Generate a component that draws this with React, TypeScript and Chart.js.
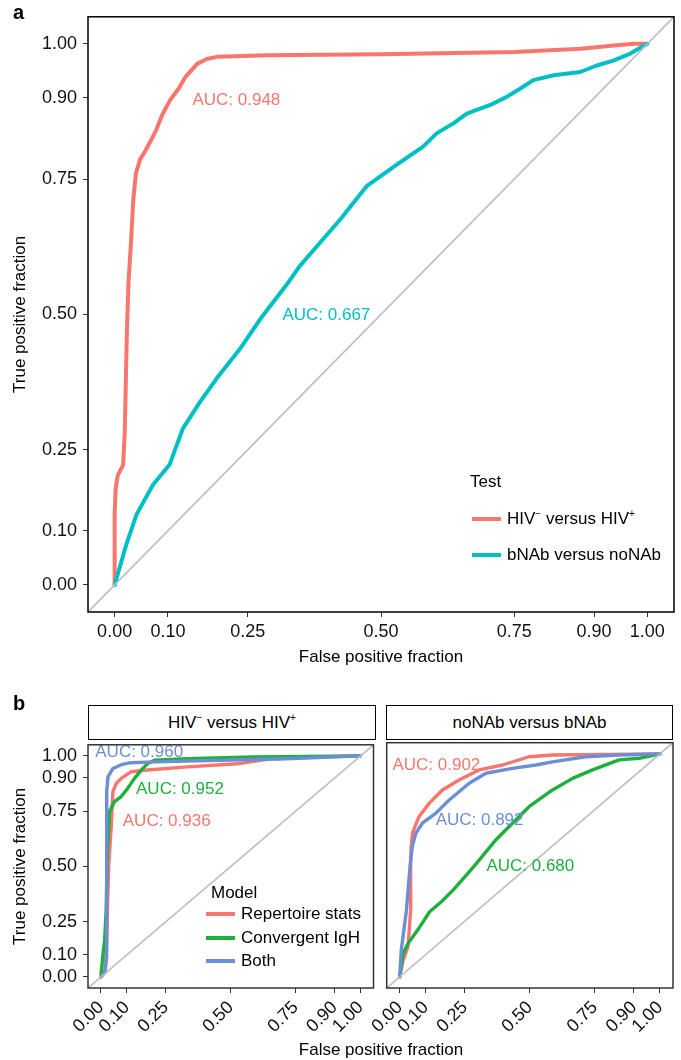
import React, { useEffect, useRef } from "react";
import { Chart, registerables } from "chart.js";

Chart.register(...registerables);

const FONT = '"Liberation Sans", Arial, Helvetica, sans-serif';

// ---------- shared axis data ----------
const AXIS_TICKS = [0, 0.1, 0.25, 0.5, 0.75, 0.9, 1];
const AXIS_LIMITS = [-0.05, 1.05];
const CHANCE_LINE = [-0.05, 1.05]; // y = x reference line

// ---------- panel a ----------
const A_HIV_FPR = [0, 0, 0.002, 0.006, 0.016, 0.019, 0.021, 0.023, 0.026, 0.031, 0.035, 0.04, 0.048, 0.057, 0.07, 0.079, 0.089, 0.104, 0.12, 0.133, 0.155, 0.173, 0.192, 0.286, 0.5, 0.75, 0.875, 0.937, 0.975, 1];
const A_HIV_TPR = [0, 0.13, 0.179, 0.203, 0.222, 0.283, 0.375, 0.467, 0.559, 0.638, 0.712, 0.761, 0.787, 0.801, 0.825, 0.843, 0.868, 0.896, 0.917, 0.939, 0.963, 0.972, 0.976, 0.979, 0.981, 0.985, 0.991, 0.997, 1, 1];
const A_BNAB_FPR = [0, 0.022, 0.041, 0.072, 0.103, 0.128, 0.16, 0.191, 0.235, 0.273, 0.326, 0.348, 0.385, 0.423, 0.473, 0.533, 0.579, 0.605, 0.636, 0.661, 0.705, 0.736, 0.761, 0.786, 0.824, 0.874, 0.905, 0.936, 0.968, 1];
const A_BNAB_TPR = [0, 0.075, 0.13, 0.185, 0.222, 0.289, 0.338, 0.381, 0.436, 0.491, 0.559, 0.59, 0.632, 0.675, 0.737, 0.779, 0.81, 0.835, 0.853, 0.871, 0.887, 0.902, 0.917, 0.933, 0.942, 0.948, 0.96, 0.969, 0.982, 1];
const A_AUC_TEXT = ["AUC: 0.948", "AUC: 0.667"];
const A_AUC_X = [0.146, 0.315];
const A_AUC_Y = [0.895, 0.498];
const A_LEGEND_TITLE = "Test";

// ---------- panel b ----------
const B_MODELS = ["Repertoire stats", "Convergent IgH", "Both"];
const B_LEGEND_TITLE = "Model";
// facet 1: HIV- versus HIV+
const B1_REP_FPR = [0, 0.015, 0.022, 0.026, 0.03, 0.04, 0.046, 0.059, 0.078, 0.116, 0.167, 0.333, 0.525, 0.653, 0.844, 1];
const B1_REP_TPR = [0, 0.03, 0.15, 0.35, 0.509, 0.689, 0.838, 0.875, 0.898, 0.928, 0.935, 0.95, 0.964, 0.987, 0.995, 1];
const B1_CONV_FPR = [0, 0.008, 0.014, 0.02, 0.024, 0.033, 0.052, 0.078, 0.103, 0.129, 0.161, 0.18, 0.206, 0.333, 0.589, 1];
const B1_CONV_TPR = [0.01, 0.105, 0.165, 0.3, 0.55, 0.748, 0.793, 0.816, 0.853, 0.898, 0.943, 0.965, 0.98, 0.987, 0.995, 1];
const B1_BOTH_FPR = [0, 0.015, 0.022, 0.022, 0.022, 0.022, 0.027, 0.046, 0.078, 0.116, 0.206, 0.461, 0.716, 1];
const B1_BOTH_TPR = [0, 0.02, 0.09, 0.314, 0.614, 0.838, 0.905, 0.943, 0.96, 0.969, 0.973, 0.98, 0.987, 1];
const B1_AUC_TEXT = ["AUC: 0.936", "AUC: 0.952", "AUC: 0.960"];
const B1_AUC_X = [0.084, 0.135, -0.022];
const B1_AUC_Y = [0.703, 0.848, 1.017];
// facet 2: noNAb versus bNAb
const B2_REP_FPR = [0, 0.013, 0.032, 0.042, 0.042, 0.044, 0.049, 0.074, 0.113, 0.164, 0.228, 0.305, 0.395, 0.497, 0.587, 1];
const B2_REP_TPR = [0, 0.075, 0.135, 0.3, 0.524, 0.58, 0.644, 0.718, 0.778, 0.838, 0.883, 0.928, 0.95, 0.987, 0.995, 1];
const B2_CONV_FPR = [0, 0.013, 0.032, 0.077, 0.115, 0.16, 0.205, 0.256, 0.295, 0.369, 0.433, 0.497, 0.587, 0.664, 0.741, 0.843, 0.92, 1];
const B2_CONV_TPR = [0, 0.105, 0.15, 0.224, 0.292, 0.337, 0.389, 0.456, 0.509, 0.614, 0.689, 0.763, 0.838, 0.89, 0.928, 0.973, 0.98, 1];
const B2_BOTH_FPR = [0, 0.006, 0.026, 0.04, 0.048, 0.062, 0.087, 0.138, 0.19, 0.267, 0.331, 0.433, 0.523, 0.587, 0.715, 0.843, 1];
const B2_BOTH_TPR = [0, 0.12, 0.3, 0.5, 0.583, 0.644, 0.689, 0.733, 0.793, 0.868, 0.913, 0.935, 0.95, 0.964, 0.987, 0.995, 1];
const B2_AUC_TEXT = ["AUC: 0.902", "AUC: 0.680", "AUC: 0.892"];
const B2_AUC_X = [-0.028, 0.333, 0.138];
const B2_AUC_Y = [0.95, 0.497, 0.703];

const X_TITLE = "False positive fraction";
const Y_TITLE = "True positive fraction";

// ---------- styles ----------
const RED = "#F8766D";
const CYAN = "#00BFC4";
const GREEN = "#1EAF3C";
const BLUE = "#6B8FD6";
const B_COLORS = [RED, GREEN, BLUE];

interface Series { fpr: number[]; tpr: number[]; color: string; width: number }
interface AucLabel { text: string; x: number; y: number; color: string }
interface Spec {
  left: number; top: number; width: number; height: number;
  padding: { top: number; right: number; bottom: number; left: number };
  yWidth: number; xHeight: number; showY: boolean; rotate: number;
  xTitle?: string; yTitle?: string;
  series: Series[]; labels: AucLabel[];
  boxColor: string; boxWidth: number;
}

function RocPanel({ spec }: { spec: Spec }) {
  const ref = useRef<HTMLCanvasElement>(null);
  useEffect(() => {
    const canvas = ref.current!;
    const n = spec.series.length;
    const datasets: any[] = spec.series.map((s, i) => ({
      data: s.fpr.map((x, k) => ({ x, y: s.tpr[k] })),
      borderColor: s.color,
      backgroundColor: s.color,
      borderWidth: s.width,
      showLine: true,
      pointRadius: 0,
      pointHoverRadius: 0,
      tension: 0,
      borderJoinStyle: "round",
      borderCapStyle: "round",
      order: n - i,
    }));
    datasets.push({
      data: CHANCE_LINE.map((v) => ({ x: v, y: v })),
      borderColor: "#BDBDBD",
      borderWidth: 1.6,
      showLine: true,
      pointRadius: 0,
      tension: 0,
      order: 0,
    });
    const decor = {
      id: "panelDecor",
      afterDatasetsDraw(chart: any) {
        const { ctx, chartArea: a, scales } = chart;
        ctx.save();
        ctx.font = `17px ${FONT}`;
        ctx.textBaseline = "middle";
        ctx.textAlign = "left";
        for (const l of spec.labels) {
          ctx.fillStyle = l.color;
          ctx.fillText(l.text, scales.x.getPixelForValue(l.x), scales.y.getPixelForValue(l.y));
        }
        ctx.strokeStyle = spec.boxColor;
        ctx.lineWidth = spec.boxWidth;
        ctx.strokeRect(a.left, a.top, a.right - a.left, a.bottom - a.top);
        ctx.restore();
      },
    };
    const tickFont = { family: FONT, size: 18 };
    const titleFont = { family: FONT, size: 17 };
    const grid = { drawOnChartArea: false, drawTicks: true, tickLength: 5, color: "#333", lineWidth: 1 };
    const chart = new Chart(canvas, {
      type: "scatter",
      data: { datasets },
      plugins: [decor],
      options: {
        animation: false,
        responsive: false,
        devicePixelRatio: 1,
        events: [],
        layout: { padding: spec.padding, autoPadding: false } as any,
        plugins: { legend: { display: false }, tooltip: { enabled: false } },
        scales: {
          x: {
            type: "linear",
            min: AXIS_LIMITS[0],
            max: AXIS_LIMITS[1],
            afterBuildTicks: (sc: any) => { sc.ticks = AXIS_TICKS.map((v) => ({ value: v })); },
            afterFit: (sc: any) => { sc.height = spec.xHeight; },
            ticks: {
              callback: (v: any) => Number(v).toFixed(2),
              font: tickFont, color: "#111", padding: 4, autoSkip: false,
              minRotation: spec.rotate, maxRotation: spec.rotate,
            },
            grid,
            border: { display: false },
            title: spec.xTitle
              ? { display: true, text: spec.xTitle, font: titleFont, color: "#000", padding: { top: 0, bottom: 12 } }
              : { display: false },
          },
          y: {
            type: "linear",
            display: spec.showY,
            min: AXIS_LIMITS[0],
            max: AXIS_LIMITS[1],
            afterBuildTicks: (sc: any) => { sc.ticks = AXIS_TICKS.map((v) => ({ value: v })); },
            afterFit: (sc: any) => { if (spec.showY) sc.width = spec.yWidth; },
            ticks: { callback: (v: any) => Number(v).toFixed(2), font: tickFont, color: "#111", padding: 6, autoSkip: false },
            grid,
            border: { display: false },
            title: spec.yTitle
              ? { display: true, text: spec.yTitle, font: titleFont, color: "#000", padding: { top: 10, bottom: 0 } }
              : { display: false },
          },
        },
      } as any,
    });
    return () => chart.destroy();
  }, []);
  return (
    <canvas
      ref={ref}
      width={spec.width}
      height={spec.height}
      style={{ position: "absolute", left: spec.left, top: spec.top, width: spec.width, height: spec.height }}
    />
  );
}

const txt = (extra: React.CSSProperties): React.CSSProperties => ({
  position: "absolute",
  fontFamily: FONT,
  fontSize: 17,
  lineHeight: "20px",
  whiteSpace: "nowrap",
  color: "#000",
  ...extra,
});

const supStyle: React.CSSProperties = { fontSize: 10, verticalAlign: 7, lineHeight: 0 };

function Versus({ a, b }: { a: string; b: string }) {
  // renders HIV⁻ versus HIV⁺ with superscripts
  return (
    <span>
      HIV<sup style={supStyle}>{a}</sup>{" versus HIV"}<sup style={supStyle}>{b}</sup>
    </span>
  );
}

function LegendRow({ x, cy, color, label, sw }: { x: number; cy: number; color: string; label: React.ReactNode; sw: number }) {
  return (
    <>
      <div style={{ position: "absolute", left: x, top: cy - 2, width: sw, height: 4, background: color }} />
      <div style={txt({ left: x + sw + 6, top: cy - 10 })}>{label}</div>
    </>
  );
}

export default function App() {
  const specA: Spec = {
    left: 0, top: 0, width: 681, height: 680,
    padding: { top: 12, right: 7, bottom: 0, left: 0 },
    yWidth: 88, xHeight: 68, showY: true, rotate: 0,
    xTitle: X_TITLE, yTitle: Y_TITLE,
    series: [
      { fpr: A_HIV_FPR, tpr: A_HIV_TPR, color: RED, width: 4 },
      { fpr: A_BNAB_FPR, tpr: A_BNAB_TPR, color: CYAN, width: 4 },
    ],
    labels: A_AUC_TEXT.map((t, i) => ({ text: t, x: A_AUC_X[i], y: A_AUC_Y[i], color: [RED, CYAN][i] })),
    boxColor: "#000", boxWidth: 1.5,
  };
  const specB1: Spec = {
    left: 0, top: 728, width: 380, height: 332,
    padding: { top: 14.7, right: 4.5, bottom: 0, left: 0 },
    yWidth: 88, xHeight: 72, showY: true, rotate: 45,
    yTitle: Y_TITLE,
    series: [
      { fpr: B1_REP_FPR, tpr: B1_REP_TPR, color: RED, width: 3.4 },
      { fpr: B1_CONV_FPR, tpr: B1_CONV_TPR, color: GREEN, width: 3.4 },
      { fpr: B1_BOTH_FPR, tpr: B1_BOTH_TPR, color: BLUE, width: 3.4 },
    ],
    labels: B1_AUC_TEXT.map((t, i) => ({ text: t, x: B1_AUC_X[i], y: B1_AUC_Y[i], color: B_COLORS[i] })),
    boxColor: "#333", boxWidth: 1.5,
  };
  const specB2: Spec = {
    left: 340, top: 728, width: 341, height: 332,
    padding: { top: 14.7, right: 8, bottom: 0, left: 46.7 },
    yWidth: 0, xHeight: 72, showY: false, rotate: 45,
    series: [
      { fpr: B2_REP_FPR, tpr: B2_REP_TPR, color: RED, width: 3.4 },
      { fpr: B2_CONV_FPR, tpr: B2_CONV_TPR, color: GREEN, width: 3.4 },
      { fpr: B2_BOTH_FPR, tpr: B2_BOTH_TPR, color: BLUE, width: 3.4 },
    ],
    labels: B2_AUC_TEXT.map((t, i) => ({ text: t, x: B2_AUC_X[i], y: B2_AUC_Y[i], color: B_COLORS[i] })),
    boxColor: "#333", boxWidth: 1.5,
  };

  const strip: React.CSSProperties = {
    position: "absolute", top: 705, height: 35, boxSizing: "border-box",
    border: "1.6px solid #000", background: "#fff", fontFamily: FONT, fontSize: 17,
    display: "flex", alignItems: "center", justifyContent: "center", whiteSpace: "nowrap",
  };

  return (
    <div style={{ position: "absolute", left: 0, top: 0, width: 681, height: 1060, background: "#fff", overflow: "hidden" }}>
      <RocPanel spec={specA} />
      <RocPanel spec={specB1} />
      <RocPanel spec={specB2} />

      <div style={txt({ left: 13, top: 2, fontWeight: "bold", fontSize: 20, lineHeight: "20px" })}>a</div>
      <div style={txt({ left: 13, top: 693, fontWeight: "bold", fontSize: 20, lineHeight: "20px" })}>b</div>

      {/* panel a legend */}
      <div style={txt({ left: 470, top: 472 })}>{A_LEGEND_TITLE}</div>
      <LegendRow x={472} cy={519} color={RED} sw={29} label={<Versus a="−" b="+" />} />
      <LegendRow x={472} cy={555} color={CYAN} sw={29} label="bNAb versus noNAb" />

      {/* panel b strips */}
      <div style={{ ...strip, left: 88, width: 288 }}><Versus a="−" b="+" /></div>
      <div style={{ ...strip, left: 386, width: 287 }}><span>noNAb versus bNAb</span></div>

      {/* panel b legend */}
      <div style={txt({ left: 211, top: 883 })}>{B_LEGEND_TITLE}</div>
      {B_MODELS.map((m, i) => (
        <LegendRow key={m} x={206} cy={914 + i * 23.5} color={B_COLORS[i]} sw={29} label={m} />
      ))}

      {/* panel b shared x title */}
      <div style={txt({ left: 0, width: 762, top: 1040, textAlign: "center" })}>{X_TITLE}</div>
    </div>
  );
}
